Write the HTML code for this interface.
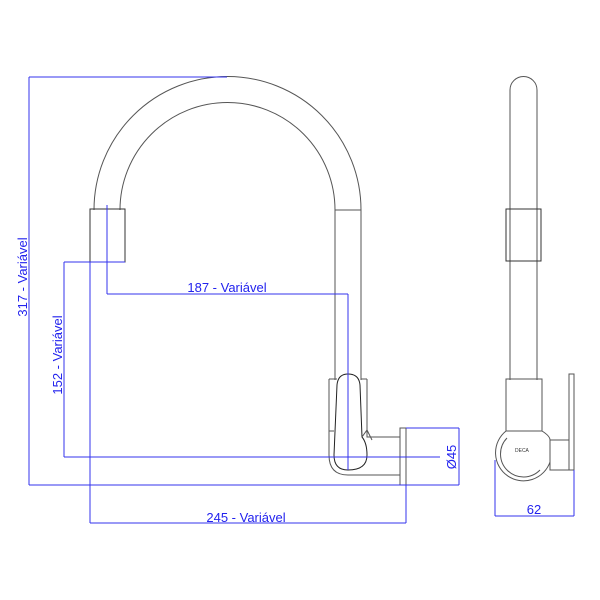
<!DOCTYPE html>
<html><head><style>html,body{margin:0;padding:0;background:#fff}svg{display:block}</style></head>
<body>
<svg width="600" height="600" viewBox="0 0 600 600" xmlns="http://www.w3.org/2000/svg">
<g fill="none" stroke="#555" stroke-width="1">
<path d="M94 210 A133 133 0 0 1 361 210 L361 380"/>
<path d="M120 210 A107 107 0 0 1 335 210 L335 380"/>
<line x1="335" y1="210" x2="361" y2="210"/>
<rect x="90" y="209" width="35" height="53" stroke="#333"/>
<path d="M329 379 L329 455 Q329 475 348 475 L400 475"/>
<path d="M367 379 L367 437 L400 437"/>
<line x1="329" y1="379" x2="337" y2="379"/>
<line x1="361" y1="379" x2="367" y2="379"/>
<line x1="329" y1="431" x2="334" y2="431"/>
<path d="M348 374 Q338 374 337 385 L334 455 Q334 470 348 470 Q367 470 367 455 Q367 443 362 437 L360 385 Q359 374 348 374 Z" stroke="#222"/>
<path d="M362 437 L367 430 L372 440"/>
<rect x="400" y="428" width="6" height="57"/>
<path d="M510 380 L510 90 A13.5 13.5 0 0 1 537 90 L537 380"/>
<rect x="506" y="209" width="35" height="52" stroke="#333"/>
<rect x="506" y="379" width="36" height="52"/>
<path d="M506 431 A28 28 0 1 0 550 462"/>
<path d="M507 438 A20 20 0 0 0 540 470"/>
<rect x="550" y="440" width="19" height="30"/>
<rect x="569" y="374" width="5" height="96"/>
<path d="M542 431 Q550 436 550 440"/>
</g>
<text x="515" y="452" font-family="Liberation Sans, sans-serif" font-size="5" fill="#333">DECA</text>
<g fill="none" stroke="#3333ee" stroke-width="1">
<line x1="29" y1="77" x2="227" y2="77"/>
<line x1="29" y1="77" x2="29" y2="485"/>
<line x1="29" y1="485" x2="406" y2="485"/>
<line x1="64" y1="262" x2="125" y2="262"/>
<line x1="64" y1="262" x2="64" y2="457"/>
<line x1="64" y1="457" x2="440" y2="457"/>
<line x1="90" y1="262" x2="90" y2="523"/>
<line x1="90" y1="523" x2="406" y2="523"/>
<line x1="406" y1="485" x2="406" y2="523"/>
<line x1="107" y1="205" x2="107" y2="294"/>
<line x1="107" y1="294" x2="348" y2="294"/>
<line x1="348" y1="294" x2="348" y2="470"/>
<line x1="406" y1="428" x2="459" y2="428"/>
<line x1="459" y1="428" x2="459" y2="485"/>
<line x1="406" y1="485" x2="459" y2="485"/>
<line x1="495" y1="460" x2="495" y2="516"/>
<line x1="574" y1="470" x2="574" y2="516"/>
<line x1="495" y1="516" x2="574" y2="516"/>
</g>
<g font-family="Liberation Sans, sans-serif" font-size="13" fill="#2222ee" text-anchor="middle">
<text x="227" y="292">187 - Variável</text>
<text x="246" y="522">245 - Variável</text>
<text x="534" y="514">62</text>
<text transform="translate(27 277) rotate(-90)">317 - Variável</text>
<text transform="translate(62 355) rotate(-90)">152 - Variável</text>
<text transform="translate(456 457) rotate(-90)">Ø45</text>
</g>
</svg>
</body></html>
